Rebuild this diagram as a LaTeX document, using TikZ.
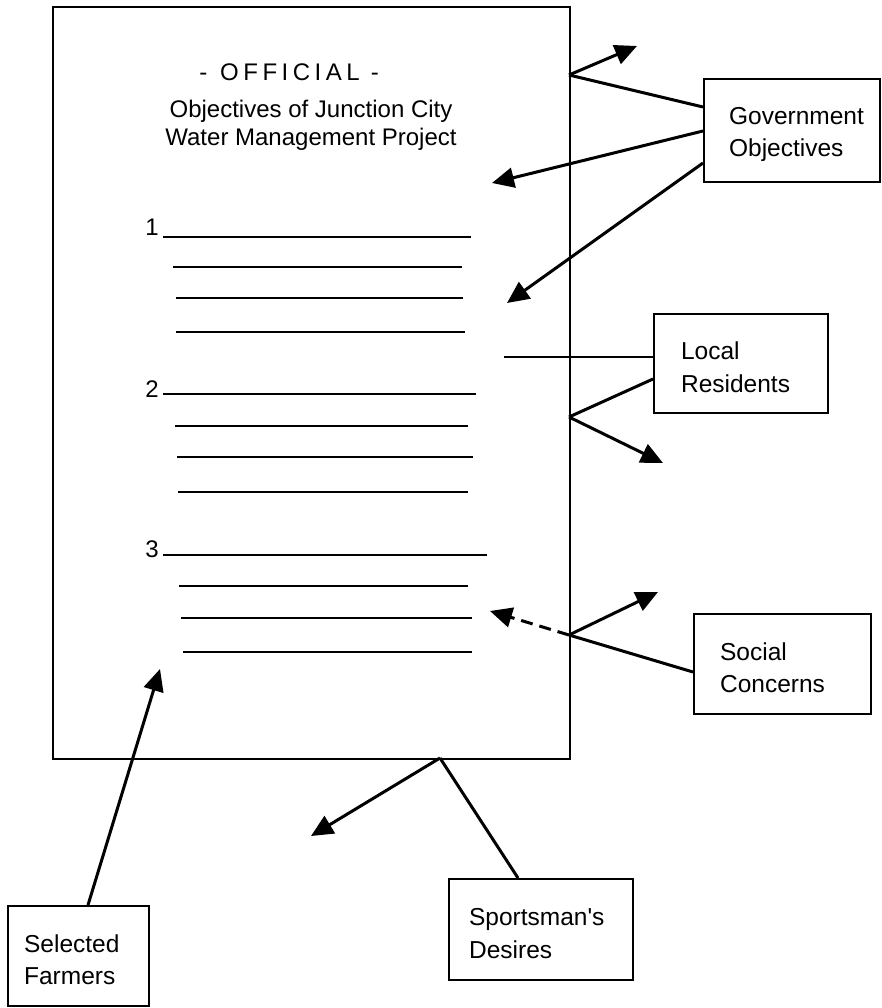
\documentclass[tikz,border=0pt]{standalone}
\usepackage{fontspec}
\setmainfont{Liberation Sans}[Ligatures=TeXOff]
\usetikzlibrary{arrows.meta,calc}
\tikzset{
  docbox/.style={draw, line width=2.4pt, inner sep=0pt, anchor=north west},
  tag/.style={draw, line width=2.2pt, align=left, inner ysep=0pt, anchor=north west,
    font=\fontsize{24.5}{32.5}\selectfont, execute at begin node={\rule{0pt}{25pt}}},
  wire/.style={line width=3pt},
  arr/.style={line width=3pt, -{Triangle[length=22pt,width=20pt]}},
  rule/.style={line width=2.4pt},
  num/.style={anchor=base east, inner sep=0pt, font=\fontsize{24}{28}\selectfont},
  title/.style={inner sep=0pt, anchor=base, align=center, font=\fontsize{24}{28}\selectfont}
}
\newcommand{\ls}{\kern4.5pt}
\begin{document}
\begin{tikzpicture}[x=1pt,y=-1pt]
\useasboundingbox (0,0) rectangle (881,1008);

% the official objectives sheet
\node[docbox, minimum width=517pt, minimum height=752pt] (doc) at (52,6) {};
\node[title] (official) at (289,81) {-\kern13pt O\ls F\ls F\ls I\ls C\ls I\ls A\ls L\kern11pt -};
% base anchor of a two-line node sits on its last line
\node[title] (heading) at (311,146) {Objectives of Junction City\\Water Management Project};

% numbered objective lines
\node[num] (n1) at (159,236) {1};
\draw[rule] (163,237) -- (471,237);
\draw[rule] (173,267) -- (462,267);
\draw[rule] (176,298) -- (463,298);
\draw[rule] (176,332) -- (465,332);

\node[num] (n2) at (159,397) {2};
\draw[rule] (163,394) -- (476,394);
\draw[rule] (175,426) -- (468,426);
\draw[rule] (177,457) -- (473,457);
\draw[rule] (178,492) -- (468,492);

\node[num] (n3) at (159,557) {3};
\draw[rule] (163,555) -- (487,555);
\draw[rule] (179,586) -- (468,586);
\draw[rule] (181,618) -- (472,618);
\draw[rule] (183,652) -- (472,652);

% interest groups
\node[tag, minimum height=103pt, text width=126pt, inner xsep=25pt] (gov) at (703,78) {Government\\Objectives};
\node[tag, minimum height=99pt, text width=120pt, inner xsep=27pt] (local) at (653,313) {Local\\Residents};
\node[tag, minimum height=100pt, text width=125pt, inner xsep=26pt] (social) at (693,613) {Social\\Concerns};
\node[tag, minimum height=101pt, text width=144pt, inner xsep=20pt] (sport) at (448,878) {Sportsman's\\Desires};
\node[tag, minimum height=100pt, text width=109pt, inner xsep=16pt] (farm) at (7,905) {Selected\\Farmers};

% points where influences meet the sheet
\coordinate (g1) at (569,75);
\coordinate (l1) at (569,417);
\coordinate (s1) at (569,635);
\coordinate (sp1) at (440,758);
\coordinate (lin) at (504,357);

% free arrow ends
\coordinate (gt1) at (637,46);
\coordinate (gt2) at (492,183);
\coordinate (gt3) at (507,303);
\coordinate (lt1) at (663,463);
\coordinate (st1) at (658,592);
\coordinate (st2) at (490,611);
\coordinate (spt) at (311,836);
\coordinate (ft) at (160,669);

% government objectives
\draw[wire] ($(gov.north west)+(0,29)$) -- (g1);
\draw[arr] (g1) -- (gt1);
\draw[arr] ($(gov.north west)+(0,53)$) -- (gt2);
\draw[arr] ($(gov.north west)+(0,85)$) -- (gt3);

% local residents
\draw[line width=2pt] (lin) -- ($(local.north west)+(0,44)$);
\draw[wire] ($(local.north west)+(0,66)$) -- (l1);
\draw[arr] (l1) -- (lt1);

% social concerns
\draw[wire] ($(social.north west)+(0,59)$) -- (s1);
\draw[arr] (s1) -- (st1);
\draw[arr, dash pattern=on 12pt off 7pt] (s1) -- (st2);

% sportsman's desires
\draw[wire] ($(sport.north west)+(70,0)$) -- (sp1);
\draw[arr] (sp1) -- (spt);

% selected farmers
\draw[arr] ($(farm.north west)+(81,0)$) -- (ft);
\end{tikzpicture}
\end{document}
